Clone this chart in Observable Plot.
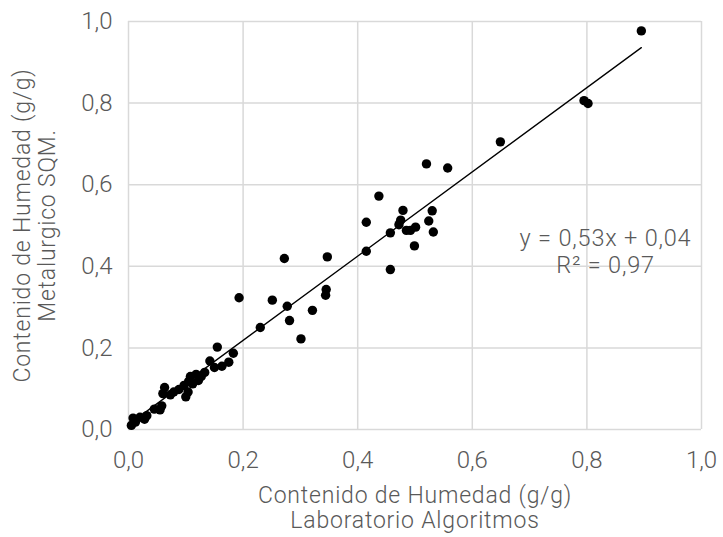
<!DOCTYPE html>
<html><head><meta charset="utf-8">
<script src="https://cdn.jsdelivr.net/npm/d3@7"></script>
<script src="https://cdn.jsdelivr.net/npm/@observablehq/plot@0.6"></script>
<style>
html,body{margin:0;padding:0;background:#fff;}
svg text{font-family:Roboto, "Liberation Sans", sans-serif;font-weight:300;}
svg g[aria-label="text"] text{letter-spacing:0.8px;}
</style>
</head><body>
<div id="chart"></div>
<script>
// Laboratorio Algoritmos (x) vs Metalurgico SQM (y), g/g
const labX = [0.005,0.008,0.012,0.020,0.028,0.032,0.045,0.055,0.058,0.060,0.063,0.073,0.079,0.088,0.097,0.100,0.104,0.105,0.108,0.112,0.118,0.122,0.127,0.133,0.142,0.150,0.155,0.163,0.175,0.183,
  0.193,0.230,0.251,0.272,0.277,0.281,0.301,0.321,0.344,0.345,0.347,0.415,0.415,0.437,0.457,0.457,0.472,0.475,0.479,0.485,0.492,0.499,0.501,0.520,0.524,0.530,0.532,0.557,0.649,0.795,0.802,0.895];
const sqmY = [0.010,0.028,0.018,0.030,0.025,0.034,0.050,0.048,0.058,0.088,0.103,0.085,0.092,0.098,0.108,0.080,0.092,0.118,0.130,0.112,0.135,0.120,0.130,0.140,0.168,0.152,0.202,0.155,0.165,0.187,
  0.323,0.250,0.317,0.419,0.302,0.267,0.222,0.292,0.329,0.343,0.423,0.437,0.508,0.572,0.482,0.392,0.502,0.513,0.537,0.488,0.488,0.450,0.496,0.651,0.511,0.536,0.484,0.641,0.705,0.806,0.799,0.977];
const trendX = [0.003, 0.895];
const trendY = [0.015, 0.936];
const tickValues = [0, 0.2, 0.4, 0.6, 0.8, 1.0];
const tickLabels = ["0,0","0,2","0,4","0,6","0,8","1,0"];
const xTitle = ["Contenido de Humedad (g/g)", "Laboratorio Algoritmos"];
const yTitle = ["Contenido de Humedad (g/g)", "Metalurgico SQM."];
const eqLines = ["y = 0,53x + 0,04", "R² = 0,97"];
const eqX = [0.8325, 0.8325];
const eqY = [0.469, 0.402];

const points = labX.map((x, i) => ({x, y: sqmY[i]}));
const trend = trendX.map((x, i) => ({x, y: trendY[i]}));
const eq = eqLines.map((t, i) => ({t, x: eqX[i], y: eqY[i]}));
const fmt = d => tickLabels[tickValues.findIndex(v => Math.abs(v - d) < 1e-9)];
const grey = "#595959";

const chart = Plot.plot({
  width: 723, height: 537,
  marginLeft: 128, marginRight: 22, marginTop: 21, marginBottom: 108,
  x: {domain: [0, 1]},
  y: {domain: [0, 1]},
  marks: [
    Plot.gridX(tickValues, {stroke: "#d9d9d9", strokeOpacity: 1, strokeWidth: 1.5}),
    Plot.gridY(tickValues, {stroke: "#d9d9d9", strokeOpacity: 1, strokeWidth: 1.5}),
    Plot.axisX(tickValues, {tickSize: 0, tickPadding: 21, tickFormat: fmt, fontSize: 24, fill: grey, label: null}),
    Plot.axisY(tickValues, {tickSize: 0, tickPadding: 16, tickFormat: fmt, fontSize: 24, fill: grey, label: null}),
    Plot.line(trend, {x: "x", y: "y", stroke: "#000", strokeWidth: 1.3}),
    Plot.dot(points, {x: "x", y: "y", r: 4.7, fill: "#000", stroke: "none"}),
    Plot.text(eq, {x: "x", y: "y", text: "t", fontSize: 23.5, fill: grey}),
    Plot.text([xTitle[0]], {frameAnchor: "bottom", dy: 73, fontSize: 23, fill: grey}),
    Plot.text([xTitle[1]], {frameAnchor: "bottom", dy: 98, fontSize: 23, fill: grey}),
    Plot.text([yTitle[0]], {frameAnchor: "left", textAnchor: "middle", dx: -106, rotate: -90, fontSize: 23, fill: grey}),
    Plot.text([yTitle[1]], {frameAnchor: "left", textAnchor: "middle", dx: -81, rotate: -90, fontSize: 23, fill: grey})
  ]
});
document.getElementById("chart").appendChild(chart);
</script>
</body></html>
